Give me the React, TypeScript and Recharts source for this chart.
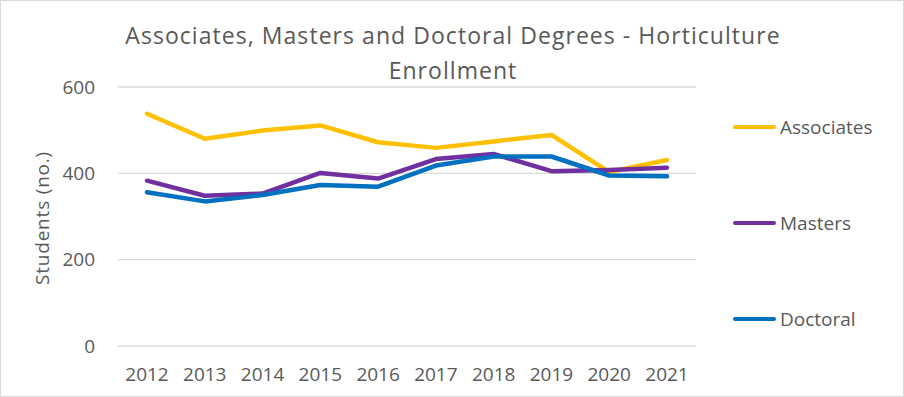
import { CartesianGrid, Line, LineChart, XAxis, YAxis } from "recharts";

const years = ["2012", "2013", "2014", "2015", "2016", "2017", "2018", "2019", "2020", "2021"];
const associates = [538, 480, 499, 511, 472, 459, 474, 489, 403, 431];
const masters = [383, 348, 353, 401, 388, 433, 445, 405, 408, 413];
const doctoral = [356, 335, 350, 373, 369, 418, 439, 439, 395, 393];
const yTicks = [0, 200, 400, 600];

const series = [
  { key: "associates", name: "Associates", color: "#FFC000" },
  { key: "masters", name: "Masters", color: "#7030A0" },
  { key: "doctoral", name: "Doctoral", color: "#0070C0" },
];

const data = years.map((year, i) => ({
  year,
  associates: associates[i],
  masters: masters[i],
  doctoral: doctoral[i],
}));

const font = "'Open Sans', 'Noto Sans', sans-serif";
const textColor = "#595959";

export default function App() {
  return (
    <div
      style={{
        position: "relative",
        width: 904,
        height: 397,
        boxSizing: "border-box",
        border: "1px solid #d9d9d9",
        background: "#fff",
        fontFamily: font,
        color: textColor,
      }}
    >
      <style>{"body{margin:0}"}</style>
      <div
        style={{
          position: "absolute",
          left: 0,
          top: 17,
          width: 904,
          textAlign: "center",
          fontSize: 23,
          letterSpacing: 1.05,
          lineHeight: "35px",
        }}
      >
        Associates, Masters and Doctoral Degrees - Horticulture
        <br />
        Enrollment
      </div>
      <div
        style={{
          position: "absolute",
          left: 41,
          top: 217,
          transform: "translate(-50%, -50%) rotate(-90deg)",
          fontSize: 19,
          letterSpacing: 0.8,
          whiteSpace: "nowrap",
        }}
      >
        Students (no.)
      </div>
      <div style={{ position: "absolute", left: -1, top: -1 }}>
        <LineChart
          width={904}
          height={397}
          data={data}
          margin={{ top: 87, right: 208, bottom: 0, left: 0 }}
        >
          <CartesianGrid vertical={false} stroke="#d9d9d9" strokeWidth={1.3} />
          <XAxis
            dataKey="year"
            height={51}
            axisLine={false}
            tickLine={false}
            tickSize={0}
            tickMargin={22}
            padding={{ left: 29, right: 29 }}
            tick={{ fill: textColor, fontSize: 19, fontFamily: font }}
          />
          <YAxis
            width={118}
            domain={[0, 600]}
            ticks={yTicks}
            axisLine={false}
            tickLine={false}
            tickSize={0}
            tickMargin={23}
            tick={{ fill: textColor, fontSize: 19, fontFamily: font }}
          />
          {series.map((s) => (
            <Line
              key={s.key}
              type="linear"
              dataKey={s.key}
              name={s.name}
              stroke={s.color}
              strokeWidth={4.5}
              strokeLinecap="round"
              strokeLinejoin="round"
              dot={false}
              isAnimationActive={false}
            />
          ))}
        </LineChart>
      </div>
      {series.map((s, i) => (
        <div
          key={s.key}
          style={{
            position: "absolute",
            left: 732,
            top: 126 + i * 96 - 14,
            height: 28,
            display: "flex",
            alignItems: "center",
            fontSize: 19,
          }}
        >
          <span
            style={{
              display: "inline-block",
              width: 43,
              height: 4.5,
              borderRadius: 3,
              background: s.color,
              marginRight: 4,
            }}
          />
          {s.name}
        </div>
      ))}
    </div>
  );
}
